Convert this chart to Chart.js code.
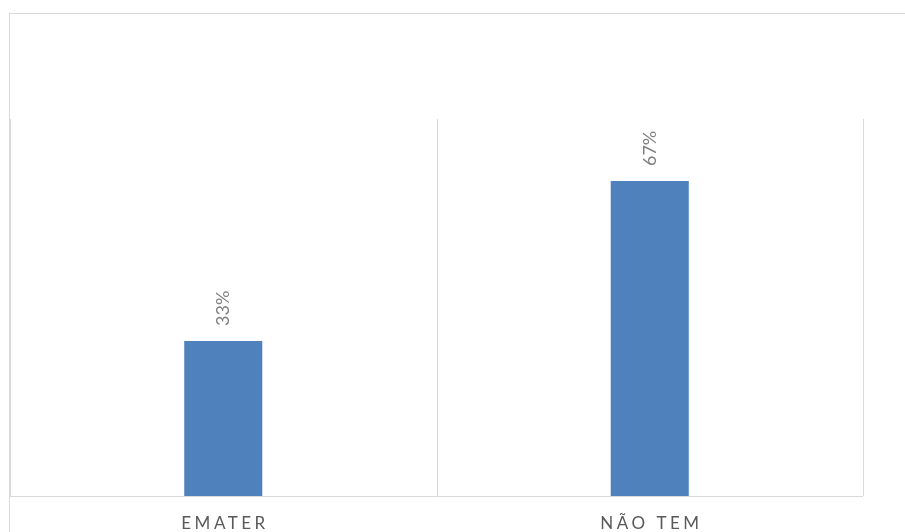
<!DOCTYPE html>
<html>
<head>
<meta charset="utf-8">
<script src="https://cdn.jsdelivr.net/npm/chart.js@4/dist/chart.umd.min.js"></script>
<style>
html,body{margin:0;padding:0;background:#fff;}
#wrap{width:905px;height:532px;position:relative;}
</style>
</head>
<body>
<div id="wrap"><canvas id="c" width="905" height="532"></canvas></div>
<script>
const categories = ["EMATER", "NÃO TEM"];
const values = [0.33, 0.67];
const valueLabels = ["33%", "67%"];

const FONT = "Lato, 'Open Sans', sans-serif";

const decor = {
  id: 'decor',
  beforeDatasetsDraw(chart) {
    const ctx = chart.ctx, a = chart.chartArea;
    ctx.save();
    ctx.strokeStyle = '#d9d9d9';
    ctx.lineWidth = 1;
    // outer chart border (extends beyond canvas)
    ctx.strokeRect(9.5, 13.5, 1200, 1200);
    // vertical gridlines at category boundaries
    const n = categories.length;
    const step = (a.right - a.left) / n;
    ctx.beginPath();
    for (let i = 0; i <= n; i++) {
      const px = Math.round(a.left + i * step) + 0.5;
      ctx.moveTo(px, a.top);
      ctx.lineTo(px, a.bottom);
    }
    ctx.stroke();
    ctx.restore();
  },
  afterDatasetsDraw(chart) {
    const ctx = chart.ctx, a = chart.chartArea, x = chart.scales.x;
    ctx.save();
    // baseline
    ctx.strokeStyle = '#d9d9d9';
    ctx.lineWidth = 1;
    ctx.beginPath();
    ctx.moveTo(a.left, Math.round(a.bottom) + 0.5);
    ctx.lineTo(a.right, Math.round(a.bottom) + 0.5);
    ctx.stroke();
    // category labels
    ctx.fillStyle = '#595959';
    ctx.font = "17px " + FONT;
    ctx.textAlign = 'center';
    ctx.textBaseline = 'middle';
    if ('letterSpacing' in ctx) ctx.letterSpacing = '3.5px';
    categories.forEach((c, i) => {
      ctx.fillText(c, x.getPixelForValue(i) + 1.75, 524);
    });
    if ('letterSpacing' in ctx) ctx.letterSpacing = '0px';
    // value labels rotated
    const meta = chart.getDatasetMeta(0);
    ctx.fillStyle = '#808080';
    ctx.font = "18px " + FONT;
    ctx.textAlign = 'left';
    ctx.textBaseline = 'middle';
    meta.data.forEach((bar, i) => {
      ctx.save();
      ctx.translate(bar.x, bar.y - 15);
      ctx.rotate(-Math.PI / 2);
      ctx.fillText(valueLabels[i], 0, 0);
      ctx.restore();
    });
    ctx.restore();
  }
};

new Chart(document.getElementById('c'), {
  type: 'bar',
  data: {
    labels: categories,
    datasets: [{
      data: values,
      backgroundColor: '#4f81bd',
      borderWidth: 0,
      barPercentage: 0.183,
      categoryPercentage: 1
    }]
  },
  options: {
    responsive: false,
    animation: false,
    layout: { padding: { left: 10, top: 119, right: 42, bottom: 36 } },
    plugins: { legend: { display: false }, tooltip: { enabled: false } },
    scales: {
      x: { display: false },
      y: { display: false, min: 0, max: 0.802 }
    }
  },
  plugins: [decor]
});
</script>
</body>
</html>
